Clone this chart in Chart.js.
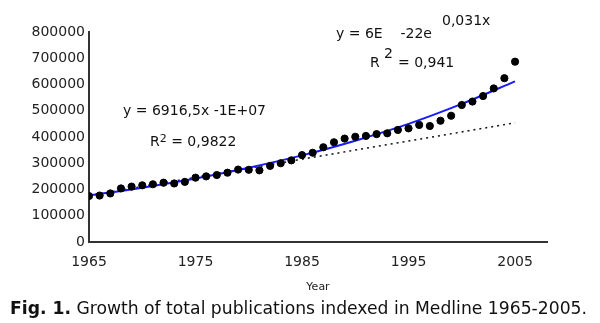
<!DOCTYPE html>
<html>
<head>
<meta charset="UTF-8">
<title>Medline growth</title>
<script src="https://cdn.jsdelivr.net/npm/chart.js"></script>
<style>
  body { margin: 0; background: #fff; }
  #wrap { position: relative; width: 600px; height: 323px; font-family: "DejaVu Sans", Verdana, sans-serif; color: #111; }
  .txt { position: absolute; white-space: nowrap; font-size: 14px; line-height: 1; }
  .txt sup { font-size: 11px; position: relative; top: -4px; vertical-align: baseline; }
  #caption { position: absolute; left: 10px; top: 300px; font-size: 17.2px; white-space: nowrap; line-height: 1; }
</style>
</head>
<body>
<div id="wrap">
  <canvas id="myChart" width="600" height="323"></canvas>
  <div class="txt" style="left:123px; top:103px;">y = 6916,5x -1E+07</div>
  <div class="txt" style="left:150px; top:134px;">R<sup>2</sup> = 0,9822</div>
  <div class="txt" style="left:336px; top:26px;">y = 6E&nbsp;&nbsp;&nbsp; -22e</div>
  <div class="txt" style="left:442px; top:13px;">0,031x</div>
  <div class="txt" style="left:370px; top:55px;">R</div>
  <div class="txt" style="left:384px; top:46px;">2</div>
  <div class="txt" style="left:398px; top:55px;">= 0,941</div>
  <div id="caption"><b>Fig. 1.</b> Growth of total publications indexed in Medline 1965-2005.</div>
</div>
<script>
// ---- data ----
const years = [1965,1966,1967,1968,1969,1970,1971,1972,1973,1974,
               1975,1976,1977,1978,1979,1980,1981,1982,1983,1984,
               1985,1986,1987,1988,1989,1990,1991,1992,1993,1994,
               1995,1996,1997,1998,1999,2000,2001,2002,2003,2004,2005];
const publications = [175000,177000,185000,204000,211000,216000,220000,226000,223000,229000,
                      245000,250000,255000,264000,276000,275000,273000,290000,300000,311000,
                      331000,340000,361000,380000,394000,401000,404000,411000,414000,427000,
                      433000,446000,442000,462000,481000,522000,535000,556000,585000,624000,687000];

// exponential trend line (blue), read at 5 year steps
const expYears = [1965,1970,1975,1980,1985,1990,1995,2000,2005];
const expValues = [177000,207000,242000,283000,330000,386000,450000,526000,612000];

// linear trend line (dotted)
const linYears = [1965,2005];
const linValues = [177000,454000];

const xTicks = [1965,1975,1985,1995,2005];
const yTicks = [0,100000,200000,300000,400000,500000,600000,700000,800000];

const toXY = (xs, ys) => xs.map((x, i) => ({x: x, y: ys[i]}));

const axisColor = '#333';

const myChart = new Chart(document.getElementById('myChart'), {
  type: 'scatter',
  data: {
    datasets: [
      {
        label: 'linear',
        data: toXY(linYears, linValues),
        showLine: true,
        borderColor: '#111',
        borderWidth: 1.5,
        borderDash: [2, 4],
        pointRadius: 0,
        order: 3
      },
      {
        label: 'exponential',
        data: toXY(expYears, expValues),
        showLine: true,
        borderColor: '#1a1aff',
        borderWidth: 2,
        tension: 0.3,
        pointRadius: 0,
        order: 2
      },
      {
        label: 'publications',
        data: toXY(years, publications),
        backgroundColor: '#000',
        borderColor: '#000',
        pointRadius: 3.6,
        order: 1
      }
    ]
  },
  options: {
    responsive: false,
    devicePixelRatio: 1,
    animation: false,
    layout: { padding: { left: 0, right: 53, top: 32, bottom: 29 } },
    plugins: { legend: { display: false }, tooltip: { enabled: false } },
    scales: {
      x: {
        type: 'linear',
        min: 1965,
        max: 2008,
        afterBuildTicks: s => { s.ticks = xTicks.map(v => ({value: v})); },
        afterFit: s => { s.height = 52; },
        grid: { display: false, drawOnChartArea: false, tickLength: 5, tickColor: axisColor, tickWidth: 1.5 },
        border: { color: axisColor, width: 2 },
        ticks: {
          color: '#222',
          font: { family: 'DejaVu Sans', size: 14 },
          padding: 7,
          maxRotation: 0,
          callback: v => String(v)
        },
        title: {
          display: true,
          text: 'Year',
          color: '#222',
          font: { family: 'DejaVu Sans', size: 11 },
          padding: { top: 0, bottom: 0 }
        }
      },
      y: {
        min: 0,
        max: 800000,
        afterBuildTicks: s => { s.ticks = yTicks.map(v => ({value: v})); },
        afterFit: s => { s.width = 89; },
        grid: { display: false, drawOnChartArea: false, tickLength: 4, tickColor: axisColor, tickWidth: 1.5 },
        border: { color: axisColor, width: 2 },
        ticks: {
          color: '#222',
          font: { family: 'DejaVu Sans', size: 14 },
          padding: 0,
          callback: v => String(v)
        }
      }
    }
  }
});
</script>
</body>
</html>
